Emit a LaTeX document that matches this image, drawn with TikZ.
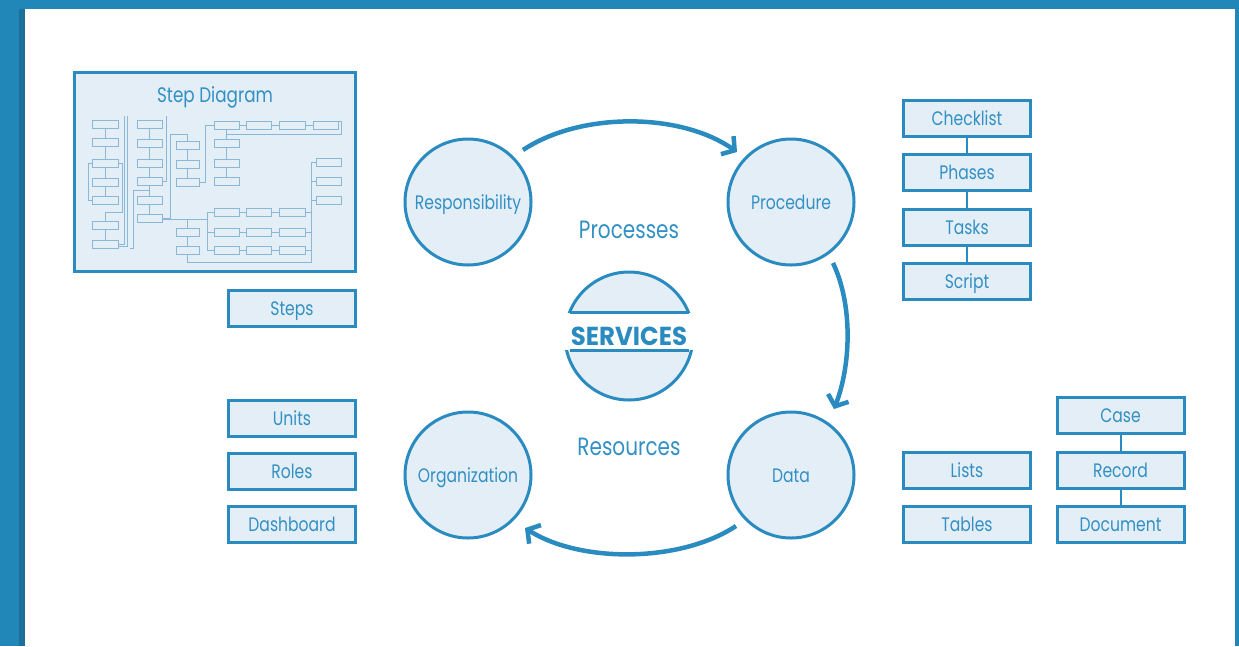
\documentclass[tikz,border=0pt]{standalone}
\usepackage{fontspec}
\setmainfont{Poppins}[FakeStretch=0.8]
\newfontfamily\svcfont{Poppins}[FakeStretch=0.94]
\usetikzlibrary{arrows.meta}
\definecolor{frame}{HTML}{2187B9}
\definecolor{frameDark}{HTML}{1C6F99}
\definecolor{ink}{HTML}{2A8BC0}
\definecolor{txt}{HTML}{3290C4}
\definecolor{pale}{HTML}{E4EEF6}
\definecolor{mini}{HTML}{8CB8D8}
\tikzset{
  bubble/.style={circle, draw=ink, line width=3pt, fill=pale, minimum size=126pt, inner sep=0pt, text=txt, font=\fontsize{19.5}{22}\selectfont, text height=16pt, text depth=2pt},
  tag/.style={rectangle, draw=ink, line width=3pt, fill=pale, minimum width=127pt, minimum height=36pt, inner sep=0pt, text=txt, font=\fontsize{19.5}{22}\selectfont, text height=16pt, text depth=2pt},
  biglabel/.style={text=txt, font=\fontsize{25}{28}\selectfont, text height=20pt, text depth=2pt},
  link/.style={draw=ink, line width=2pt},
  flow/.style={draw=ink, line width=4.5pt, -{Straight Barb[length=9pt,width=22pt,line width=4.5pt]}},
  mbox/.style={draw=mini, line width=0.7pt, fill=pale},
  mline/.style={draw=mini, line width=0.7pt},
}
\begin{document}
\begin{tikzpicture}[x=1pt,y=-1pt]
\useasboundingbox (0,0) rectangle (1239,646);
% frame
\fill[frame] (0,0) rectangle (1239,646);
\fill[frameDark] (19,9) rectangle (25,646);
\fill[white] (25,9) rectangle (1235,646);

% step diagram panel
\node[draw=ink, line width=3pt, fill=pale, minimum width=281pt, minimum height=199pt, inner sep=0pt] (stepdiag) at (215,172) {};
\node[text=txt, font=\fontsize{21}{24}\selectfont, text height=17pt, text depth=2pt] (steptitle) at (215,95) {Step Diagram};
% miniature flowchart
\begin{scope}
% connectors
\draw[mline] (105,128)--(105,138) (105,146)--(105,159) (105,167)--(105,178) (105,186)--(105,196);
\draw[mline] (105,229)--(105,240);
\draw[mline] (92,163)--(88,163)--(88,200)--(92,200) (118,163)--(122,163)--(122,212)--(105,212)--(105,221);
\draw[mline] (118,244)--(124,244)--(124,116) (118,246)--(127,246)--(127,116);
\draw[mline] (149.5,128)--(149.5,139) (149.5,147)--(149.5,159) (149.5,167)--(149.5,177) (149.5,185)--(149.5,196) (149.5,204)--(149.5,214);
\draw[mline] (162,181)--(166,181)--(166,116);
\draw[mline] (130,248)--(133,248)--(133,190)--(149.5,190);
\draw[mline] (162,218)--(170,218)--(170,134)--(187.5,134)--(187.5,141);
\draw[mline] (187.5,149)--(187.5,160) (187.5,168)--(187.5,178);
\draw[mline] (199,182)--(205,182)--(205,125)--(214,125);
\draw[mline] (226.5,129)--(226.5,132)--(226.5,139) (226.5,147)--(226.5,159) (226.5,167)--(226.5,177);
\draw[mline] (239,125)--(246,125) (271,125)--(279,125) (305,125)--(313,125);
\draw[mline] (338,121)--(341,121)--(341,134)--(226.5,134);
\draw[mline] (162,219)--(207,219);
\draw[mline] (187.5,219)--(187.5,228) (187.5,236)--(187.5,246);
\draw[mline] (207,212)--(207,250);
\draw[mline] (207,212)--(214,212) (207,232)--(214,232) (207,250)--(214,250);
\draw[mline] (239,212)--(246,212) (239,232)--(246,232) (239,250)--(246,250);
\draw[mline] (271,212)--(279,212) (271,232)--(279,232) (271,250)--(279,250);
\draw[mline] (305,212)--(311,212) (305,232)--(311,232) (305,250)--(311,250);
\draw[mline] (311,162)--(311,262)--(187.5,262)--(187.5,254);
\draw[mline] (311,162)--(316,162) (311,181)--(316,181) (311,200)--(316,200);
% boxes
\foreach \y in {120,138,159,178,196,221,240} \draw[mbox] (92,\y) rectangle (118,\y+8);
\foreach \y in {120,139,159,177,196,214} \draw[mbox] (137,\y) rectangle (162,\y+8);
\foreach \y in {141,160,178,228,246} \draw[mbox] (176,\y) rectangle (199,\y+8);
\foreach \y in {121,139,159,177,208,228,246} \draw[mbox] (214,\y) rectangle (239,\y+8);
\foreach \y in {121,208,228,246} \draw[mbox] (246,\y) rectangle (271,\y+8);
\foreach \y in {121,208,228,246} \draw[mbox] (279,\y) rectangle (305,\y+8);
\draw[mbox] (313,121) rectangle (338,129);
\foreach \y in {158,177,196} \draw[mbox] (316,\y) rectangle (341,\y+8);
\end{scope}

\node[tag] (steps) at (292,308.5) {Steps};

% circles
\node[bubble] (resp) at (468,202) {Responsibility};
\node[bubble] (proc) at (791,202) {Procedure};
\node[bubble] (org) at (468,475) {Organization};
\node[bubble] (data) at (791,475) {Data};

\node[biglabel] (processes) at (629,229) {Processes};
\node[biglabel] (resources) at (629,446) {Resources};

% services
\coordinate (svc) at (629,336);
\begin{scope}
\clip (540,250) rectangle (720,312);
\draw[draw=ink, line width=3pt, fill=pale] (svc) circle (64);
\end{scope}
\begin{scope}
\clip (540,350) rectangle (720,420);
\draw[draw=ink, line width=3pt, fill=pale] (svc) circle (64);
\end{scope}
\draw[ink, line width=3pt] (569.5,312)--(688.5,312) (569.5,350)--(688.5,350);
\node[text=ink, font=\svcfont\fontsize{26}{29}\selectfont\bfseries, text height=18pt, text depth=0pt] (services) at (svc) {SERVICES};

% flow arrows
\coordinate (a1s) at (523,150);
\coordinate (a1e) at (737,152);
\coordinate (a2s) at (833,263);
\coordinate (a2e) at (834,409);
\coordinate (a3s) at (736,526);
\coordinate (a3e) at (525,528);
\draw[flow] (a1s) .. controls (580,112) and (680,112) .. (a1e);
\draw[flow] (a2s) .. controls (853,305) and (851,365) .. (a2e);
\draw[flow] (a3s) .. controls (680,563) and (580,563) .. (a3e);

% right top stack
\node[tag] (checklist) at (967,118.5) {Checklist};
\node[tag] (phases) at (967,172.5) {Phases};
\node[tag] (tasks) at (967,227) {Tasks};
\node[tag] (script) at (967,281.5) {Script};
\draw[link] (checklist.south)--(phases.north);
\draw[link] (phases.south)--(tasks.north);
\draw[link] (tasks.south)--(script.north);

% right bottom
\node[tag] (lists) at (967,470.5) {Lists};
\node[tag] (tables) at (967,524.5) {Tables};
\node[tag] (case) at (1120.5,415.5) {Case};
\node[tag] (record) at (1120.5,470.5) {Record};
\node[tag] (document) at (1120.5,524.5) {Document};
\draw[link] (case.south)--(record.north);
\draw[link] (record.south)--(document.north);

% left bottom
\node[tag] (units) at (292,418.5) {Units};
\node[tag] (roles) at (292,471.5) {Roles};
\node[tag] (dashboard) at (292,524.5) {Dashboard};
\end{tikzpicture}
\end{document}
